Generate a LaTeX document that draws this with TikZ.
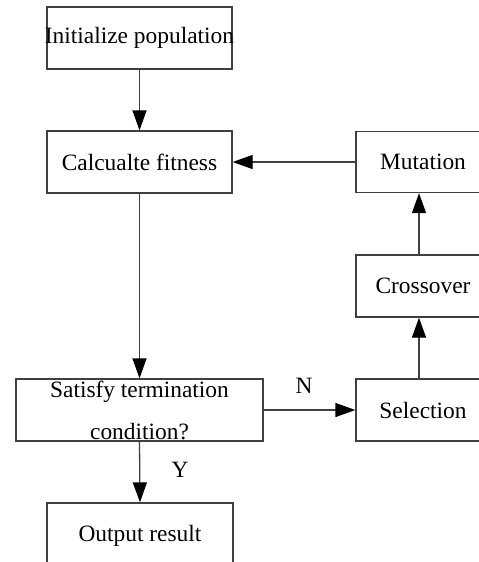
\documentclass[tikz,border=0pt]{standalone}
\usepackage{fontspec}
\setmainfont{Liberation Serif}
\usetikzlibrary{arrows.meta,calc}
\definecolor{linegray}{HTML}{404040}
\tikzset{
  box/.style={draw=linegray, line width=1.3pt, rectangle, inner sep=0pt, anchor=center},
  flow/.style={draw=linegray, line width=1.3pt, -{Triangle[length=20pt,width=14pt,fill=black,color=black]}},
  lbl/.style={font=\fontsize{23.4pt}{42pt}\selectfont, inner sep=0pt, align=center, text=black},
}
\begin{document}
\begin{tikzpicture}[x=1pt,y=-1pt]
\useasboundingbox (0,0) rectangle (479,562);
\node[box, minimum width=185pt, minimum height=62pt] (init) at (139.5,38) {};
\node[lbl] (initT) at (init) {Initialize population};
\node[box, minimum width=185pt, minimum height=62pt] (fit) at (139.5,162) {};
\node[lbl] (fitT) at (fit) {Calcualte fitness};
\node[box, minimum width=247pt, minimum height=62pt] (sat) at (139.5,410) {};
\node[lbl] (satT) at (139.5,410) {Satisfy termination\\condition?};
\node[box, minimum width=186pt, minimum height=66pt] (out) at (140,536) {};
\node[lbl] (outT) at (out) {Output result};
\node[box, minimum width=134pt, minimum height=61pt] (mut) at (423,162) {};
\node[lbl] (mutT) at (mut) {Mutation};
\node[box, minimum width=134pt, minimum height=62pt] (cross) at (423,286) {};
\node[lbl] (crossT) at (cross) {Crossover};
\node[box, minimum width=134pt, minimum height=62pt] (sel) at (423,410) {};
\node[lbl] (selT) at (sel) {Selection};
\coordinate (colx) at (419,0);
\draw[flow] (init.south) -- (fit.north);
\draw[flow] (fit.south) -- (sat.north);
\draw[flow] (sat.south) -- (out.north);
\draw[flow] (sat.east) -- (sel.west);
\draw[flow] (sel.north -| colx) -- (cross.south -| colx);
\draw[flow] (cross.north -| colx) -- (mut.south -| colx);
\draw[flow] (mut.west) -- (fit.east);
\node[lbl] (nlab) at (304,386) {N};
\node[lbl] (ylab) at (180,470) {Y};
\end{tikzpicture}
\end{document}
